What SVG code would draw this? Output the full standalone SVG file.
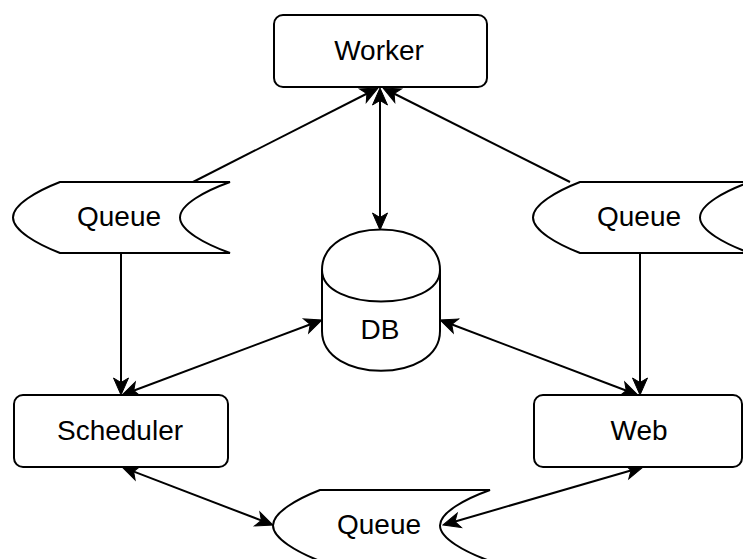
<svg xmlns="http://www.w3.org/2000/svg" width="743" height="559" viewBox="0 0 743 559">
<style>
.shape{fill:#fff;stroke:#000;stroke-width:2}
.lbl{font-family:"Liberation Sans",Arial,sans-serif;font-size:28px;fill:#000;text-anchor:middle}
.edge{fill:none;stroke:#000;stroke-width:2}
.one{marker-end:url(#arr)}
.two{marker-start:url(#arr);marker-end:url(#arr)}
</style>
<defs>
<marker id="arr" markerUnits="userSpaceOnUse" viewBox="-19 -9 21 18" markerWidth="21" markerHeight="18" refX="-10" refY="0" orient="auto-start-reverse">
<path d="M0,0 L-17,-7.5 L-12.5,0 L-17,7.5 Z" fill="#000" stroke="#000" stroke-width="1"/>
</marker>
<path id="queue" d="M47,0 L217,0 C192,9 167,22.5 167,35.5 C167,48.5 192,62 217,71 L47,71 C24,62 0,48.5 0,35.5 C0,22.5 24,9 47,0 Z"/>
</defs>
<rect width="743" height="559" fill="#fff"/>
<g id="connectors">
<path class="edge two" d="M380,98 L380,220"/>
<path class="edge one" d="M193,182 L369.1,92.5"/>
<path class="edge one" d="M570,182 L391.9,92.5"/>
<path class="edge one" d="M121,253 L121,385"/>
<path class="edge one" d="M640,253 L640,385"/>
<path class="edge two" d="M312.6,323.5 L131.4,391.5"/>
<path class="edge two" d="M449.4,323.5 L628.6,391.5"/>
<path class="edge two" d="M131.3,470.6 L263.7,521.4"/>
<path class="edge two" d="M633.4,469.8 L452.6,522.2"/>
</g>
<g id="worker">
<rect class="shape" x="274" y="15" width="213" height="72" rx="9"/>
<text class="lbl" x="379" y="60">Worker</text>
</g>
<g id="db">
<path class="shape" d="M322,270 C322,216 440,216 440,270 L440,331 C440,384 322,384 322,331 Z"/>
<path class="edge" d="M322,270 C322,312 440,312 440,270"/>
<text class="lbl" x="380" y="339">DB</text>
</g>
<g id="queue-left">
<use href="#queue" class="shape" x="13" y="182"/>
<text class="lbl" x="119" y="226">Queue</text>
</g>
<g id="queue-right">
<use href="#queue" class="shape" x="533" y="182"/>
<text class="lbl" x="639" y="226">Queue</text>
</g>
<g id="queue-bottom">
<use href="#queue" class="shape" x="273" y="490"/>
<text class="lbl" x="379" y="534">Queue</text>
</g>
<g id="scheduler">
<rect class="shape" x="14" y="395" width="214" height="72" rx="9"/>
<text class="lbl" x="120" y="440">Scheduler</text>
</g>
<g id="web">
<rect class="shape" x="534" y="395" width="208" height="72" rx="9"/>
<text class="lbl" x="639" y="440">Web</text>
</g>
</svg>
